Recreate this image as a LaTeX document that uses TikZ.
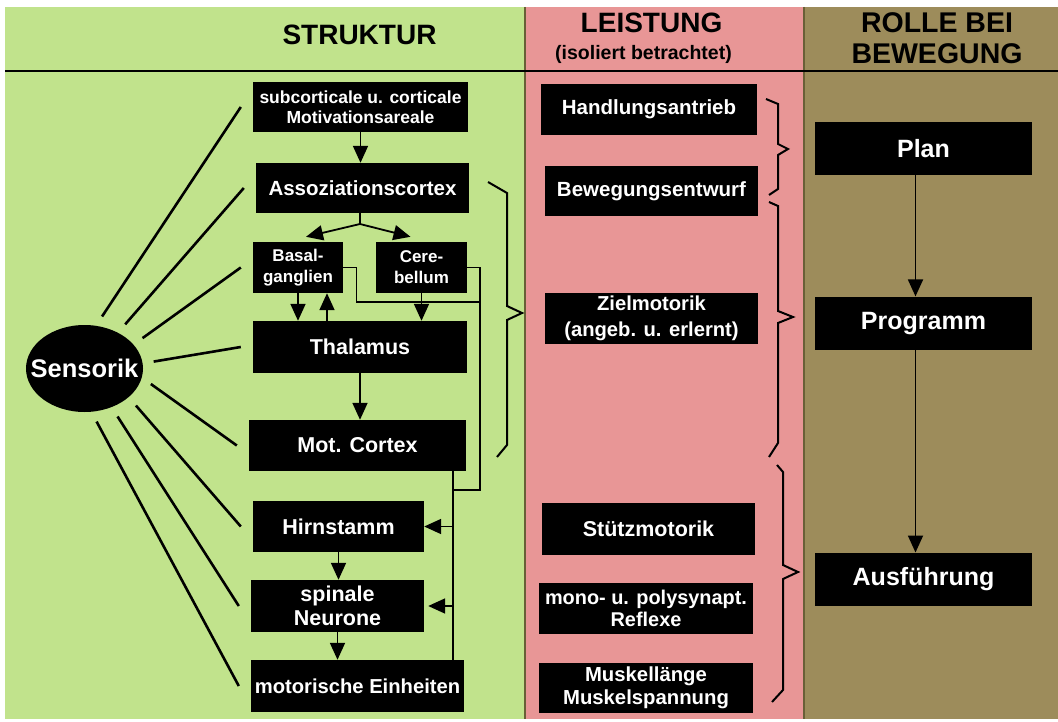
\documentclass[tikz,border=0pt]{standalone}
\usepackage{fontspec}
\setmainfont{Liberation Sans}
\usepackage{xcolor}
\usepackage{tikz}
\usetikzlibrary{arrows.meta, positioning, shapes.geometric}

\definecolor{gruen}{RGB}{193,227,140}
\definecolor{rosa}{RGB}{232,150,150}
\definecolor{khaki}{RGB}{157,140,91}
\definecolor{trenn}{RGB}{105,95,55}

\newcommand{\boxfs}[2]{\fontsize{#1}{#2}\selectfont\bfseries}

\begin{document}
\begin{tikzpicture}[x=1pt, y=-1pt,
        blk/.style={fill=black, text=white, inner sep=0pt, align=center},
        pfeil/.style={-{Triangle[width=15pt,length=17pt]}, line width=1.8pt},
        sinn/.style={line width=2.6pt, shorten <=11pt},
        klammer/.style={line width=2pt, line join=miter}]
        \useasboundingbox (0,0) rectangle (1058,722);
        \fill[white] (0,0) rectangle (1058,722);
        \fill[gruen] (5,7) rectangle (525,719);
        \fill[rosa] (525,7) rectangle (804,719);
        \fill[khaki] (804,7) rectangle (1058,719);
        \draw[trenn, line width=1.2pt] (525,7) -- (525,719);
        \draw[trenn, line width=1.5pt] (804,7) -- (804,719);
        \draw[line width=1.5pt] (5,71) -- (1058,71);

        \node[font=\boxfs{28}{30}] (hstruk) at (359.5,35) {STRUKTUR};
        \node[font=\boxfs{28}{30}] (hleist) at (651.5,23) {LEISTUNG};
        \node[font=\boxfs{19.5}{22}] (hisol) at (643.5,54) {(isoliert betrachtet)};
        \node[font=\boxfs{28.5}{31}, align=center] (hrolle) at (937,38.5) {ROLLE BEI\\BEWEGUNG};

        \node[blk, minimum width=215pt, minimum height=50pt, font=\boxfs{17.5}{20}] (motiv) at (360.5,107) {subcorticale u. corticale\\Motivationsareale};
        \node[blk, minimum width=213pt, minimum height=50pt, font=\boxfs{20.5}{24}] (assoz) at (362.5,188) {Assoziationscortex};
        \node[blk, minimum width=90pt, minimum height=51pt, font=\boxfs{17}{21}] (basal) at (298,267.5) {Basal-\\ganglien};
        \node[blk, minimum width=91pt, minimum height=51pt, font=\boxfs{17}{21}] (cere) at (421.5,267.5) {Cere-\\bellum};
        \node[blk, minimum width=214pt, minimum height=52pt, font=\boxfs{21.5}{24}] (thal) at (360,347) {Thalamus};
        \node[blk, minimum width=217pt, minimum height=51pt, font=\boxfs{21.5}{24}] (motcx) at (357.5,445.5) {Mot. Cortex};
        \node[blk, minimum width=171pt, minimum height=51pt, font=\boxfs{21.5}{24}] (hirn) at (338.5,526.5) {Hirnstamm};
        \node[blk, minimum width=173pt, minimum height=52pt, font=\boxfs{21.5}{24}] (spin) at (337.5,606) {spinale\\Neurone};
        \node[blk, minimum width=213pt, minimum height=52pt, font=\boxfs{20.2}{24}] (einh) at (357.5,686) {motorische Einheiten};

        \node[ellipse, fill=black, minimum width=117pt, minimum height=87pt, inner sep=0pt] (sens) at (84.5,368.5) {};
        \node[text=white, font=\boxfs{25.5}{28}] (senstxt) at (sens) {Sensorik};

        \node[blk, minimum width=216pt, minimum height=51pt, font=\boxfs{20.5}{24}] (handl) at (649,109.5) {Handlungsantrieb};
        \node[blk, minimum width=213pt, minimum height=50pt, font=\boxfs{20.5}{24}] (entw) at (651.5,191) {Bewegungsentwurf};
        \node[blk, minimum width=213pt, minimum height=51pt, font=\boxfs{20.2}{26}] (ziel) at (651.5,318.5) {Zielmotorik\\(angeb. u. erlernt)};
        \node[blk, minimum width=213pt, minimum height=52pt, font=\boxfs{21.5}{24}] (stuetz) at (648.5,529) {Stützmotorik};
        \node[blk, minimum width=214pt, minimum height=51pt, font=\boxfs{19.9}{22}] (reflex) at (646,608.5) {mono- u. polysynapt.\\Reflexe};
        \node[blk, minimum width=214pt, minimum height=50pt, font=\boxfs{20.3}{22.7}] (muskel) at (646,688) {Muskellänge\\Muskelspannung};

        \node[blk, minimum width=217pt, minimum height=53pt, font=\boxfs{25}{28}] (plan) at (923.5,148.8) {Plan};
        \node[blk, minimum width=217pt, minimum height=53pt, font=\boxfs{25}{28}] (prog) at (923.5,323.1) {Programm};
        \node[blk, minimum width=217pt, minimum height=53pt, font=\boxfs{25}{28}] (ausf) at (923.5,579.2) {Ausführung};

        \foreach \ziel/\w in {motiv/75, assoz/47, basal/26, thal/5, motcx/-9, hirn/-33, spin/-55, einh/-81}
            \draw[sinn] (sens.\w) -- ([xshift=-12pt]\ziel.west);

        \draw[pfeil] (motiv.south) -- (motiv.south |- assoz.north);
        \coordinate (gabel) at (360,224);
        \draw[line width=1.8pt] (gabel |- assoz.south) -- (gabel);
        \draw[pfeil] (gabel) -- ([xshift=8pt,yshift=5pt]basal.north);
        \draw[pfeil] (gabel) -- ([xshift=-11pt,yshift=5pt]cere.north);
        \draw[pfeil] (basal.south) -- (basal.south |- thal.north);
        \draw[pfeil] ([xshift=29pt]basal.south |- thal.north) -- ([xshift=29pt]basal.south);
        \draw[pfeil] (cere.south) -- (cere.south |- thal.north);
        \draw[pfeil] (thal.south) -- (thal.south |- motcx.north);
        \draw[pfeil] (hirn.south) -- (hirn.south |- spin.north);
        \draw[pfeil] (spin.south) -- (spin.south |- einh.north);

        \coordinate (bahn) at ([xshift=-13pt]motcx.south east);
        \coordinate (knick) at (480,490);
        \draw[line width=1.2pt] (basal.east) -- ++(13,0) |- (knick |- 0,302);
        \draw[line width=1.2pt] (cere.east) -| (knick) -- (bahn |- knick);
        \draw[line width=2.2pt] (bahn) -- (bahn |- einh.north);
        \draw[pfeil] (bahn |- hirn.east) -- (hirn.east);
        \draw[pfeil] (bahn |- spin.east) -- ([xshift=4pt]spin.east);

        \draw[pfeil] ([xshift=-8pt]plan.south) -- ([xshift=-8pt]prog.north);
        \draw[pfeil] ([xshift=-8pt]prog.south) -- ([xshift=-8pt]ausf.north);

        \draw[klammer] (488,182) -- (507,193) -- (507,306) -- (522,313) -- (507,320) -- (507,445) -- (497,457);
        \draw[klammer] (766,99) -- (778,104) -- (778,144) -- (788,149) -- (778,155) -- (778,189) -- (769,195);
        \draw[klammer] (769,202) -- (778,206) -- (778,311) -- (793,317) -- (778,323) -- (778,443) -- (769,457);
        \draw[klammer] (777,465) -- (783,472) -- (783,565) -- (798,572) -- (783,579) -- (783,690) -- (772,702);
    \end{tikzpicture}
\end{document}
